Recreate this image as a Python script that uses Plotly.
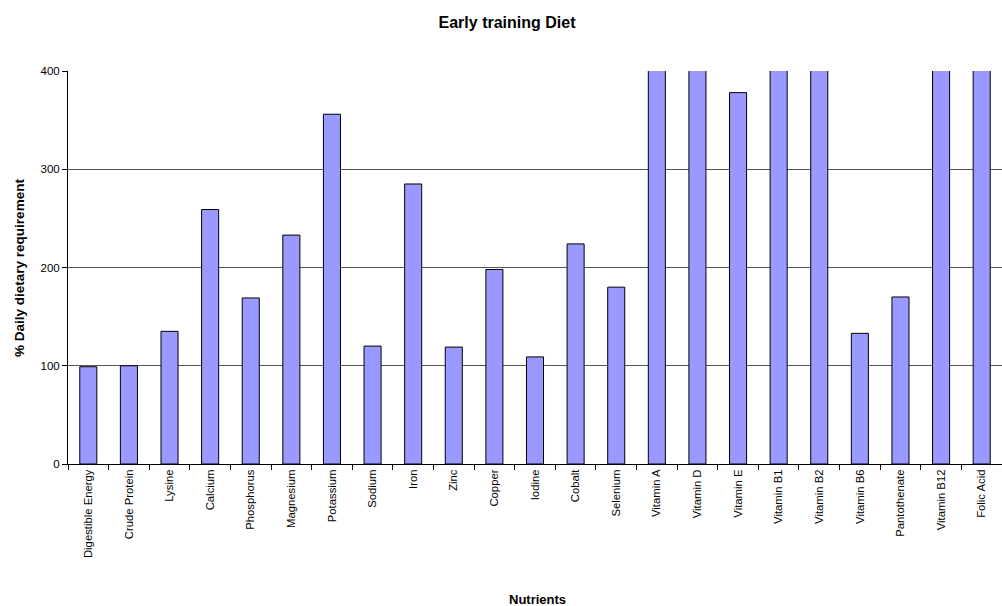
import plotly.graph_objects as go

nutrients = ["Digestible Energy", "Crude Protein", "Lysine", "Calcium", "Phosphorus",
             "Magnesium", "Potassium", "Sodium", "Iron", "Zinc", "Copper", "Iodine",
             "Cobalt", "Selenium", "Vitamin A", "Vitamin D", "Vitamin E", "Vitamin B1",
             "Vitamin B2", "Vitamin B6", "Pantothenate", "Vitamin B12", "Folic Acid"]
# values above 400 are clipped in the original chart (off-scale)
pct_requirement = [99, 100, 135, 259, 169, 233, 356, 120, 285, 119, 198, 109,
                   224, 180, 600, 600, 378, 600, 600, 133, 170, 600, 600]
y_ticks = [0, 100, 200, 300, 400]

FONT = "Arial, Liberation Sans, sans-serif"

fig = go.Figure(go.Bar(
    x=nutrients, y=pct_requirement, width=0.42,
    marker=dict(color="#9999FF", line=dict(color="#000000", width=1)),
))

fig.update_layout(
    width=1002, height=606,
    margin=dict(l=68, r=0, t=71, b=142),
    paper_bgcolor="white", plot_bgcolor="white",
    showlegend=False,
    font=dict(family=FONT, size=11, color="#000"),
    title=dict(text="<b>Early training Diet</b>", x=0.506, xanchor="center",
               y=0.963, yanchor="middle", font=dict(family=FONT, size=16, color="#000")),
    annotations=[
        dict(text="<b>% Daily dietary requirement</b>", xref="paper", yref="paper",
             x=-0.052, y=0.5, xanchor="center", yanchor="middle", textangle=-90,
             showarrow=False, font=dict(family=FONT, size=13.5)),
        dict(text="<b>Nutrients</b>", xref="paper", yref="paper",
             x=0.503, y=-0.344, xanchor="center", yanchor="middle",
             showarrow=False, font=dict(family=FONT, size=13)),
    ],
)

fig.update_xaxes(
    type="category", tickangle=-90, showline=True, linecolor="#000", linewidth=1,
    ticks="outside", ticklen=5, tickcolor="#000", tickson="boundaries",
    showgrid=False, tickfont=dict(family=FONT, size=11.3), fixedrange=True,
)
fig.update_yaxes(
    range=[0, 400], tickvals=y_ticks, showline=True, linecolor="#000", linewidth=1,
    ticks="outside", ticklen=5, tickcolor="#000",
    showgrid=True, gridcolor="#555", gridwidth=1, zeroline=False,
    tickfont=dict(family=FONT, size=11.5), fixedrange=True,
)

fig.write_html("out.html")
